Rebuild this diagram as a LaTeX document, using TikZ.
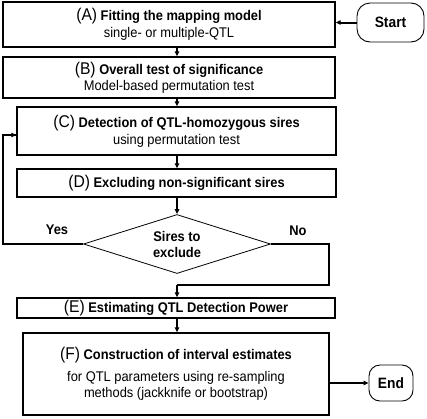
\documentclass[tikz,border=0pt]{standalone}
\usepackage{fontspec}
\setmainfont{Liberation Sans}[FakeStretch=0.92]
\usetikzlibrary{shapes.geometric}
\usetikzlibrary{arrows.meta}
\usetikzlibrary{positioning}
\newcommand\steptitle[2]{{\fontsize{17}{18}\selectfont(#1)} \textbf{#2}}
\tikzset{
  stage/.style={draw,line width=1.4pt,rectangle,inner sep=1pt,align=center,
    font=\fontsize{14}{16}\selectfont},
  terminal/.style={draw,line width=0.9pt,rounded corners=13pt,
    font=\bfseries\fontsize{15}{17}\selectfont},
  decision/.style={draw,diamond,line width=0.8pt,aspect=3.17,inner sep=0pt,
    align=center,font=\bfseries\fontsize{14}{16}\selectfont},
  answer/.style={font=\bfseries\fontsize{14}{16}\selectfont},
  flow/.style={-{Triangle[length=5pt,width=4.5pt]},line width=1.2pt},
  heavyflow/.style={flow,line width=2pt},
  loopline/.style={line width=2.4pt}
}
\begin{document}
\begin{tikzpicture}[x=1pt,y=-1pt]
  \useasboundingbox (0,0) rectangle (427,418);
  %
  % steps
  \node[stage,minimum width=332pt,minimum height=45pt] (fit) at (169,24.5)
    {\steptitle{A}{Fitting the mapping model}\\[1pt] single- or multiple-QTL};
  \node[stage,minimum width=332pt,minimum height=41pt] (overall) at (169,77.5)
    {\steptitle{B}{Overall test of significance}\\[0pt] Model-based permutation test};
  \node[stage,minimum width=319pt,minimum height=48pt] (detect) at (176.5,131)
    {\steptitle{C}{Detection of QTL-homozygous sires}\\[1pt] using permutation test};
  \node[stage,minimum width=319pt,minimum height=28pt] (exclude) at (176.5,183)
    {\steptitle{D}{Excluding non-significant sires}};
  \node[decision,minimum width=187pt,minimum height=59pt] (sires) at (177,244)
    {Sires to\\exclude};
  \node[stage,minimum width=318pt,minimum height=20pt] (power) at (176,308)
    {\steptitle{E}{Estimating QTL Detection Power}};
  \node[stage,minimum width=306pt,minimum height=82pt] (interval) at (176,374)
    {\steptitle{F}{Construction of interval estimates}\\[6pt]
     for QTL parameters using re-sampling\\[0pt] methods (jackknife or bootstrap)};

  % start and end
  \node[terminal,minimum width=67pt,minimum height=39pt] (start) at (390.5,22.5) {Start};
  \node[terminal,rounded corners=11pt,minimum width=44pt,minimum height=36pt] (end) at (391,383) {End};

  % answers
  \node[answer] (yes) at (57,230) {Yes};
  \node[answer] (no) at (298,231) {No};

  % connectors
  \draw[heavyflow] (start.west) -- (fit.east |- start.west);
  \draw[flow] (fit.south -| sires.north) -- (overall.north -| sires.north);
  \draw[flow] (overall.south -| sires.north) -- (detect.north -| sires.north);
  \draw[flow] (detect.south -| sires.north) -- (exclude.north -| sires.north);
  \draw[heavyflow] (exclude.south -| sires.north) -- (sires.north);

  \coordinate (yesturn) at (3,244);
  \draw[loopline] (sires.west) -- (yesturn) |- ([yshift=-4pt]detect.west);
  \draw[flow] ([xshift=-8pt,yshift=-4pt]detect.west) -- ([yshift=-4pt]detect.west);

  \coordinate (nojoin) at (177,285);
  \draw[loopline] (sires.east) -- ++(58,0) |- (nojoin);
  \draw[flow] (nojoin) -- (power.north -| nojoin);

  \draw[heavyflow] (power.south -| sires.north) -- (interval.north -| sires.north);
  \draw[heavyflow] (interval.east |- end.west) -- (end.west);

\end{tikzpicture}
\end{document}
